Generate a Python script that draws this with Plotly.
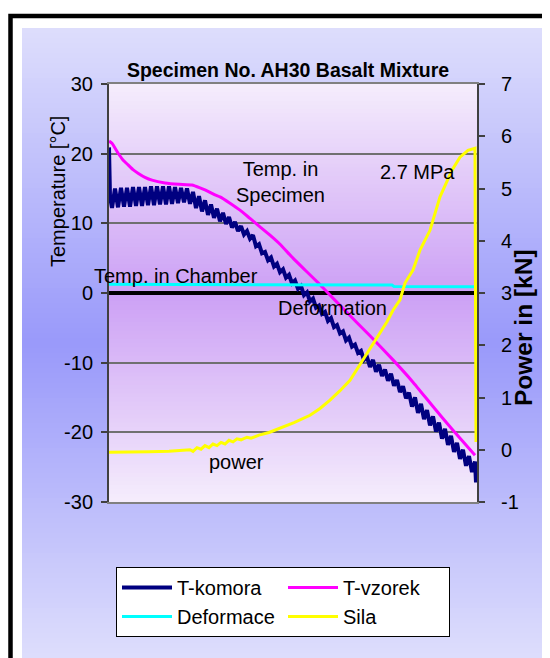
import plotly.graph_objects as go

# ---------------- data (time axis = sample index) ----------------
komora_t = [0, 1] + list(range(3, 367, 3)) + [367]
komora_v = [20.9, 13.8,
            12.2, 15.0, 12.3, 15.1, 12.4, 15.1, 12.4, 15.2, 12.5, 15.2,
            12.5, 15.2, 12.6, 15.3, 12.6, 15.3, 12.7, 15.3, 12.7, 15.3,
            12.8, 15.2, 12.9, 15.1, 13.0, 15.0, 12.8, 14.5, 12.2, 13.9,
            11.7, 13.3, 11.2, 12.7, 10.8, 12.1, 10.3, 11.5, 9.9, 10.9,
            9.4, 10.2, 8.9, 9.6, 8.4, 8.9, 7.8, 8.3, 6.7, 7.0,
            5.7, 5.9, 4.7, 5.1, 3.8, 4.2, 3.0, 3.4, 2.2, 2.6,
            1.4, 1.8, 0.6, 1.0, -0.3, 0.1, -1.2, -0.8, -2.1, -1.8,
            -3.0, -2.7, -4.0, -3.6, -4.9, -4.6, -5.8, -5.5, -6.8, -6.4,
            -7.7, -7.4, -8.6, -8.3, -9.6, -9.2, -10.6, -9.6, -11.3, -10.3,
            -11.9, -11.0, -12.6, -11.6, -13.3, -12.5, -14.2, -13.4, -15.1, -14.3,
            -16.3, -15.0, -17.2, -15.9, -18.1, -16.8, -19.0, -17.7, -19.9, -18.6,
            -20.9, -19.5, -21.8, -20.5, -22.8, -21.5, -23.8, -22.5, -24.8, -23.4,
            -25.7, -24.2,
            -27.2]

vzorek_t = [0, 3, 9, 14, 19, 24, 29, 36, 43, 56, 70, 83, 91, 96, 106, 111, 121, 131,
            141, 151, 161, 171, 184, 196, 211, 219, 238, 260, 284, 304, 324, 344, 366]
vzorek_v = [21.8, 21.5, 20.1, 19.1, 18.4, 17.7, 17.2, 16.6, 16.2, 15.8, 15.6, 15.5, 15.1,
            14.8, 14.1, 13.8, 12.9, 11.9, 10.7, 9.5, 8.3, 7.0, 5.0, 3.3, 1.2, 0.0, -2.8,
            -6.0, -9.6, -12.8, -16.3, -19.7, -23.3]

deform_t = [0, 100, 200, 283, 285, 366]
deform_v = [1.25, 1.2, 1.2, 1.15, 0.95, 0.9]

sila_t = [0, 20, 40, 60, 78, 81, 84, 88, 92, 96, 100, 104, 108, 112, 116, 120, 124, 128,
          132, 138, 142, 150, 160, 171, 185, 201, 211, 221, 231, 241, 254, 262, 270, 278,
          284, 291, 296, 304, 311, 321, 331, 337, 343, 351, 359, 366, 367]
sila_v = [-0.05, -0.05, -0.04, -0.03, -0.01, 0.0, -0.03, 0.04, 0.01, 0.08, 0.04, 0.11,
          0.08, 0.14, 0.11, 0.18, 0.15, 0.21, 0.19, 0.24, 0.22, 0.28, 0.33, 0.41, 0.52,
          0.66, 0.79, 0.95, 1.13, 1.33, 1.72, 1.95, 2.2, 2.45, 2.67, 2.87, 3.19, 3.44,
          3.82, 4.2, 4.84, 5.1, 5.35, 5.6, 5.73, 5.77, 0.15]

series_names = ["T-komora", "T-vzorek", "Deformace", "Sila"]
series_colors = ["#000080", "#ff00ff", "#00ffff", "#ffff00"]

temp_ticks = [-30, -20, -10, 0, 10, 20, 30]
power_ticks = [-1, 0, 1, 2, 3, 4, 5, 6, 7]

# ---------------- geometry helpers (page pixel coordinates) ----------------
OFF = 8                     # default body margin of the html page
W, H = 550 - OFF, 658 - OFF
PL, PT, PR, PB = 109, 84, 477, 502   # plot area on the page
L, T = PL - OFF, PT - OFF
PW, PH = PR - PL, PB - PT
R, B = W - L - PW, H - T - PH


def px(x):
    return (x - PL) / PW


def py(y):
    return (PB - y) / PH


FONT = "Arial, Liberation Sans, sans-serif"

fig = go.Figure()
fig.add_trace(go.Scatter(x=komora_t, y=komora_v, name=series_names[0], mode="lines",
                         line=dict(color=series_colors[0], width=4)))
fig.add_trace(go.Scatter(x=vzorek_t, y=vzorek_v, name=series_names[1], mode="lines",
                         line=dict(color=series_colors[1], width=3, shape="spline", smoothing=0.4)))
fig.add_trace(go.Scatter(x=deform_t, y=deform_v, name=series_names[2], mode="lines",
                         line=dict(color=series_colors[2], width=3)))
fig.add_trace(go.Scatter(x=sila_t, y=sila_v, name=series_names[3], mode="lines", yaxis="y2",
                         line=dict(color=series_colors[3], width=3)))

# ---------------- background gradients ----------------
shapes = []


def lerp(c1, c2, f):
    return "rgb(%d,%d,%d)" % tuple(round(a + (b - a) * f) for a, b in zip(c1, c2))


# outer chart-area gradient (light at edges, blue in the middle)
o_top, o_bot, o_mid = 28, 668, 343
o_edge, o_center = (222, 222, 252), (153, 153, 250)
n = 128
step = (o_bot - o_top) / n
for i in range(n):
    y0 = o_top + i * step
    y1 = y0 + step + 0.8
    yc = y0 + step / 2
    f = 1 - min(1.0, abs(yc - o_mid) / (o_mid - o_top))
    shapes.append(dict(type="rect", xref="paper", yref="paper", layer="below",
                       x0=px(22), x1=px(560), y0=py(y1), y1=py(y0),
                       fillcolor=lerp(o_edge, o_center, f), line=dict(width=0)))

# plot-area gradient
p_edge, p_center = (245, 237, 252), (204, 160, 245)
n = 100
step = PH / n
for i in range(n):
    y0 = PT + i * step
    y1 = min(y0 + step + 0.8, PB)
    yc = y0 + step / 2
    f = 1 - min(1.0, abs(yc - (PT + PH / 2)) / (PH / 2))
    shapes.append(dict(type="rect", xref="paper", yref="paper", layer="below",
                       x0=0, x1=1, y0=py(y1), y1=py(y0),
                       fillcolor=lerp(p_edge, p_center, f), line=dict(width=0)))

# black outer frame
shapes.append(dict(type="rect", xref="paper", yref="paper", layer="below",
                   x0=px(10.5), x1=px(580), y0=py(690), y1=py(16),
                   fillcolor="rgba(0,0,0,0)", line=dict(color="black", width=4.5)))

# ---------------- annotations ----------------
ann_font = dict(family=FONT, size=20, color="black")
annotations = [
    dict(text="Temperature [°C]", x=px(58), y=py(192), textangle=-90, font=ann_font),
    dict(text="<b>Power in [kN]</b>", x=px(523), y=py(328), textangle=-90,
         font=dict(family=FONT, size=24.5, color="black")),
    dict(text="Temp. in<br>Specimen", x=px(280), y=py(182), font=ann_font),
    dict(text="2.7 MPa", x=px(417), y=py(172), font=ann_font),
    dict(text="Temp. in Chamber", x=px(176), y=py(276), font=ann_font),
    dict(text="Deformation", x=px(332), y=py(308), font=ann_font),
    dict(text="power", x=px(236), y=py(462), font=ann_font),
]
for a in annotations:
    a.update(xref="paper", yref="paper", showarrow=False, xanchor="center", yanchor="middle")

tick_font = dict(family=FONT, size=20, color="black")

fig.update_layout(
    width=W, height=H, autosize=False,
    margin=dict(l=L, r=R, t=T, b=B, pad=0),
    paper_bgcolor="white", plot_bgcolor="rgba(0,0,0,0)",
    font=dict(family=FONT, size=20, color="black"),
    title=dict(text="<b>Specimen No. AH30 Basalt Mixture</b>", xref="container", yref="container",
               x=(288 - OFF) / W, y=1 - (70 - OFF) / H, xanchor="center", yanchor="middle",
               font=dict(family=FONT, size=19.5, color="black")),
    xaxis=dict(range=[0, 368], showticklabels=False, ticks="", showgrid=False, zeroline=False,
               showline=True, linecolor="#808080", linewidth=2, mirror=True, fixedrange=True),
    yaxis=dict(range=[-30, 30], tickvals=temp_ticks, ticktext=[str(v) for v in temp_ticks],
               ticks="outside", ticklen=6, tickwidth=1.5, tickcolor="#404040",
               showline=True, linecolor="#404040", linewidth=2,
               showgrid=True, gridcolor="#707070", gridwidth=1.5,
               zeroline=True, zerolinecolor="black", zerolinewidth=4,
               tickfont=tick_font, ticklabelstandoff=4),
    yaxis2=dict(range=[-1, 7], tickvals=power_ticks, ticktext=[str(v) for v in power_ticks],
                overlaying="y", side="right", anchor="x",
                ticks="outside", ticklen=6, tickwidth=1.5, tickcolor="#404040",
                showline=True, linecolor="#404040", linewidth=2, showgrid=False, zeroline=False,
                tickfont=tick_font, ticklabelstandoff=12),
    yaxis3=dict(range=[-1, 7], tickvals=power_ticks, overlaying="y", side="right", anchor="x",
                ticks="inside", ticklen=6, tickwidth=1.5, tickcolor="#404040",
                showticklabels=False, showline=False, showgrid=False, zeroline=False),
    legend=dict(orientation="h", x=px(116), y=py(567), xanchor="left", yanchor="top",
                bgcolor="white", bordercolor="black", borderwidth=1,
                itemwidth=50, entrywidth=101, entrywidthmode="pixels",
                font=dict(family=FONT, size=20, color="black"), traceorder="normal"),
    shapes=shapes,
    annotations=annotations,
    showlegend=True,
)

fig.write_html("out.html")
